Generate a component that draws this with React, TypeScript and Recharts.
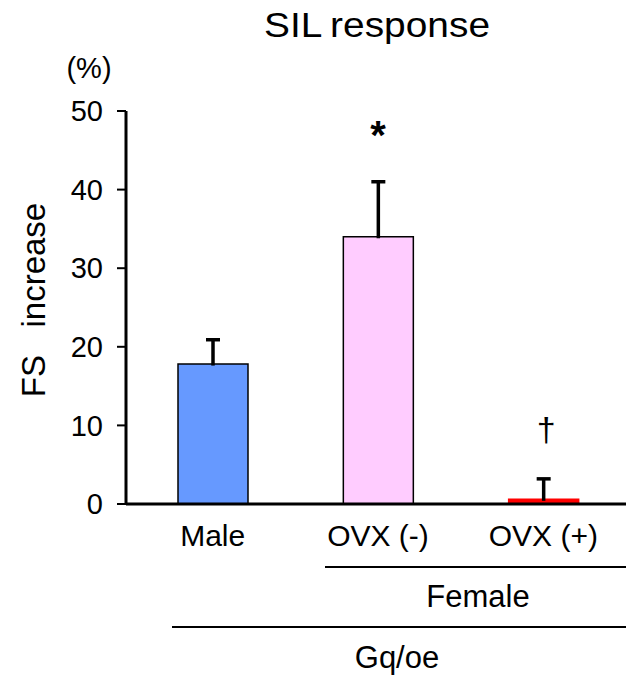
import React from 'react';
import { ComposedChart, Bar, XAxis, YAxis, Cell, Scatter } from 'recharts';

const categories = ['Male', 'OVX (-)', 'OVX (+)'];
const fsIncrease = [17.8, 34.0, 0.6];
const errorUp = [3.1, 7.0, 2.6];
const markers = ['', '*', '\u2020'];
const markerY = [null, 47, 9.6];
const barColors = ['#6699FF', '#FFCCFF', '#FF0000'];
const barStrokes = ['#000000', '#000000', '#FF0000'];
const yTicks = [0, 10, 20, 30, 40, 50];

const data = categories.map((c, i) => ({
  cat: c,
  value: fsIncrease[i],
  errUp: errorUp[i],
  mark: markers[i],
  markY: markerY[i],
}));

const FONT = 'Liberation Sans, Arial, sans-serif';

const MarkShape = (props: any) => {
  const { cx, cy, payload } = props;
  if (!payload || !payload.mark || cy == null || isNaN(cy)) return <g />;
  const isStar = payload.mark === '*';
  return (
    <text
      x={cx + (isStar ? 0 : 3)}
      y={cy}
      textAnchor="middle"
      dominantBaseline="central"
      fontFamily={FONT}
      fontSize={isStar ? 40 : 34}
      fontWeight={isStar ? 'bold' : 'normal'}
      fill="#000"
    >
      {payload.mark}
    </text>
  );
};

const ErrShape = (props: any) => {
  const { x, y, width, height } = props;
  if (x == null || y == null || isNaN(y)) return <g />;
  const cx = x + width / 2;
  return (
    <g>
      <line x1={cx} y1={y + height + 1.5} x2={cx} y2={y} stroke="#000" strokeWidth={3.5} />
      <line x1={cx - 7} y1={y} x2={cx + 7} y2={y} stroke="#000" strokeWidth={3.5} />
    </g>
  );
};

export default function App() {
  return (
    <div style={{ position: 'absolute', left: 0, top: 0, width: 626, height: 682, background: '#fff' }}>
      <ComposedChart
        width={626}
        height={682}
        data={data}
        margin={{ top: 111, right: 0, bottom: 118, left: 0 }}
      >
        <XAxis
          dataKey="cat"
          axisLine={{ stroke: '#000', strokeWidth: 3 }}
          tickLine={false}
          tick={{ fill: '#000', fontSize: 30, fontFamily: FONT }}
          tickMargin={15}
          padding={{ left: 4, right: 0 }}
          height={60}
          interval={0}
        />
        <YAxis
          domain={[0, 50]}
          ticks={yTicks}
          width={126}
          axisLine={{ stroke: '#000', strokeWidth: 3 }}
          tickLine={{ stroke: '#000', strokeWidth: 2 }}
          tickSize={9}
          tickMargin={14}
          tick={{ fill: '#000', fontSize: 29, fontFamily: FONT }}
          allowDataOverflow
        />
        <Bar dataKey="value" stackId="a" barSize={70} strokeWidth={1.5} isAnimationActive={false}>
          {data.map((d, i) => (
            <Cell key={d.cat} fill={barColors[i]} stroke={barStrokes[i]} />
          ))}
        </Bar>
        <Bar dataKey="errUp" stackId="a" barSize={70} shape={<ErrShape />} isAnimationActive={false} />
        <Scatter dataKey="markY" shape={<MarkShape />} isAnimationActive={false} />
      </ComposedChart>
      <svg
        width={626}
        height={682}
        style={{ position: 'absolute', left: 0, top: 0, pointerEvents: 'none' }}
        fontFamily={FONT}
      >
        <text
          x={377}
          y={37}
          textAnchor="middle"
          fontSize={35}
          fill="#000"
          textLength={226}
          lengthAdjust="spacingAndGlyphs"
        >
          SIL{'\u2009'}response
        </text>
        <text x={89} y={78} textAnchor="middle" fontSize={29} fill="#000">
          (%)
        </text>
        <text
          x={45}
          y={300}
          textAnchor="middle"
          fontSize={33}
          fill="#000"
          transform="rotate(-90 45 300)"
        >
          FS{'\u00a0\u00a0\u00a0'}increase
        </text>
        <line x1={325} y1={567} x2={626} y2={567} stroke="#000" strokeWidth={2} />
        <text x={478} y={607} textAnchor="middle" fontSize={31} fill="#000">
          Female
        </text>
        <line x1={172} y1={627} x2={626} y2={627} stroke="#000" strokeWidth={2} />
        <text x={397} y={668} textAnchor="middle" fontSize={31} fill="#000">
          Gq/oe
        </text>
      </svg>
    </div>
  );
}
